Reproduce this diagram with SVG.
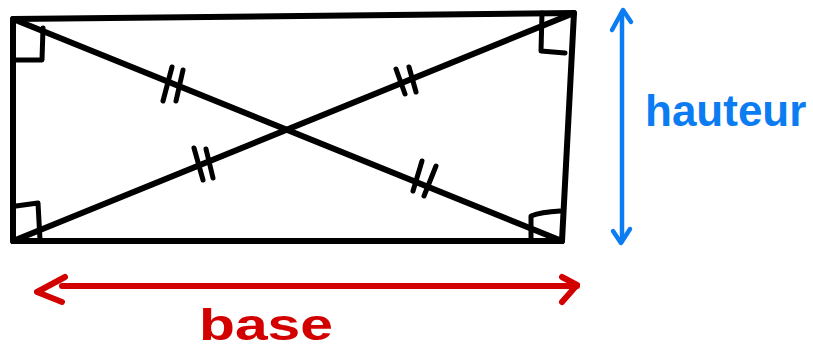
<svg xmlns="http://www.w3.org/2000/svg" width="813" height="351" viewBox="0 0 813 351">
<style>
.k{fill:none;stroke:#000;stroke-width:6;stroke-linecap:round;stroke-linejoin:round}
.m{fill:none;stroke:#000;stroke-width:5;stroke-linecap:round;stroke-linejoin:round}
.b{fill:none;stroke:#0b7cf2;stroke-width:4.5;stroke-linecap:round;stroke-linejoin:round}
.r{fill:none;stroke:#d30000;stroke-width:6;stroke-linecap:round;stroke-linejoin:round}
.t{font-family:"Liberation Sans",Arial,sans-serif;font-weight:bold}
</style>
<rect width="813" height="351" fill="#fff"/>
<g id="rectangle">
<path class="k" d="M13,19 L574,13 L562,241 L13,241 Z"/>
</g>
<g id="connectors">
<path class="k" d="M13,19 L562,241"/>
<path class="k" d="M13,241 L574,13"/>
</g>
<g id="right-angles">
<path class="m" d="M16,60 L42,60 L43,28"/>
<path class="m" d="M16,206 L38,203 L40,240"/>
<path class="m" d="M542,13 L541,51 L565,53"/>
<path class="m" d="M531,240 L531,216 Q541,212 560,211"/>
</g>
<g id="ticks">
<path class="m" d="M172,67 L163,101 M183,70 L176,101"/>
<path class="m" d="M194,148 L203,180 M206,149 L213,178"/>
<path class="m" d="M396,69 L405,94 M409,67 L416,92"/>
<path class="m" d="M422,161 L413,191 M436,166 L424,196"/>
</g>
<g id="hauteur">
<path class="b" d="M622,12 L622,241"/>
<path class="b" d="M612,30 L623,10 L631,22"/>
<path class="b" d="M613,231 L621,243 L630,229"/>
<text class="t" x="645" y="126" font-size="44" fill="#0b7cf2">hauteur</text>
</g>
<g id="base">
<path class="r" d="M62,286 L577,286"/>
<path class="r" d="M65,277 L37,292 L62,302"/>
<path class="r" d="M562,277 L577,285 L562,302"/>
<text class="t" x="199" y="340" font-size="44" fill="#d30000" textLength="134" lengthAdjust="spacingAndGlyphs">base</text>
</g>
</svg>
